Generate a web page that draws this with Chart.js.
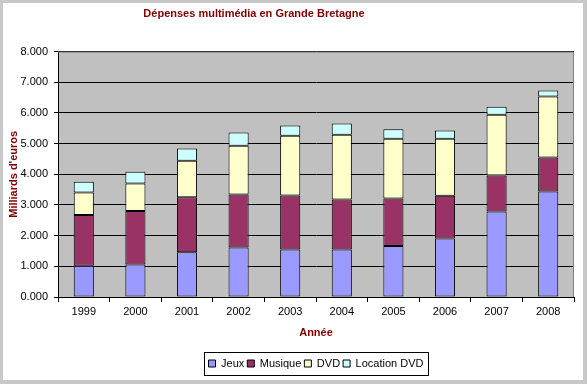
<!DOCTYPE html>
<html>
<head>
<meta charset="utf-8">
<title>Dépenses multimédia en Grande Bretagne</title>
<script src="https://cdn.jsdelivr.net/npm/chart.js@4"></script>
<style>
  html, body { margin: 0; padding: 0; }
  body { width: 587px; height: 384px; background: #c8c8c8; position: relative; overflow: hidden; }
  #frame { position: absolute; left: 3px; top: 3px; width: 580px; height: 377px; background: #fff; }
</style>
</head>
<body>
<div id="frame"><canvas id="barChart"></canvas></div>
<script>
// données (milliards d'euros)
const annees = ["1999", "2000", "2001", "2002", "2003", "2004", "2005", "2006", "2007", "2008"];
const jeux = [1.02, 1.06, 1.46, 1.61, 1.55, 1.55, 1.66, 1.91, 2.79, 3.44];
const musique = [1.65, 1.74, 1.79, 1.73, 1.76, 1.63, 1.55, 1.39, 1.17, 1.11];
const dvd = [0.74, 0.90, 1.19, 1.59, 1.95, 2.11, 1.95, 1.86, 1.98, 1.99];
const locationDvd = [0.35, 0.38, 0.40, 0.43, 0.33, 0.37, 0.31, 0.27, 0.26, 0.19];
const yTicks = [0, 1, 2, 3, 4, 5, 6, 7, 8];

const rouge = "#800000";

// fond gris de la zone de traçage + cadre
const plotArea = {
  id: "plotArea",
  beforeDraw(chart) {
    const { ctx, chartArea: a } = chart;
    ctx.save();
    ctx.fillStyle = "#c0c0c0";
    ctx.fillRect(a.left, a.top, a.right - a.left, a.bottom - a.top);
    ctx.restore();
  },
  afterDatasetsDraw(chart) {
    const { ctx, chartArea: a } = chart;
    ctx.save();
    ctx.strokeStyle = "#808080";
    ctx.lineWidth = 1;
    ctx.beginPath();
    ctx.moveTo(a.left, a.top + 0.5);
    ctx.lineTo(a.right - 0.5, a.top + 0.5);
    ctx.lineTo(a.right - 0.5, a.bottom);
    ctx.stroke();
    ctx.restore();
  }
};

// titre un peu à gauche, légende centrée sous la zone de traçage avec un cadre
const legendBox = {
  id: "legendBox",
  afterLayout(chart) {
    const t = chart.titleBlock;
    const tShift = 251 - (t.left + t.right) / 2;
    t.left += tShift;
    t.right += tShift;

    const l = chart.legend;
    const a = chart.chartArea;
    const shift = (a.left + a.right) / 2 - (l.left + l.right) / 2;
    l.left += shift;
    l.right += shift;
    (l.legendHitBoxes || []).forEach((h) => { h.left += shift; });
  },
  afterDraw(chart) {
    const hb = chart.legend.legendHitBoxes;
    if (!hb || !hb.length) return;
    const x0 = Math.min(...hb.map((h) => h.left)) - 5;
    const x1 = Math.max(...hb.map((h) => h.left + h.width)) + 4;
    const y0 = hb[0].top - 6;
    const y1 = hb[0].top + hb[0].height + 6;
    const ctx = chart.ctx;
    ctx.save();
    ctx.strokeStyle = "#000";
    ctx.lineWidth = 1;
    ctx.strokeRect(Math.round(x0) + 0.5, Math.round(y0) + 0.5, Math.round(x1 - x0), Math.round(y1 - y0));
    ctx.restore();
  }
};

function serie(label, data, color) {
  return {
    label: label,
    data: data,
    backgroundColor: color,
    borderColor: "#000",
    borderWidth: 1,
    borderSkipped: false,
    barPercentage: 0.39,
    categoryPercentage: 1
  };
}

Chart.defaults.font.family = "Arial, 'Liberation Sans', sans-serif";
Chart.defaults.font.size = 11;
Chart.defaults.color = "#000";

new Chart(document.getElementById("barChart"), {
  type: "bar",
  data: {
    labels: annees,
    datasets: [
      serie("Jeux", jeux, "#9999ff"),
      serie("Musique", musique, "#993366"),
      serie("DVD", dvd, "#ffffcc"),
      serie("Location DVD", locationDvd, "#ccffff")
    ]
  },
  options: {
    responsive: true,
    maintainAspectRatio: false,
    animation: false,
    layout: { padding: { left: 0, right: 9, top: 0, bottom: 1 } },
    plugins: {
      title: {
        display: true,
        text: "Dépenses multimédia en Grande Bretagne",
        color: rouge,
        font: { size: 11, weight: "bold" },
        padding: { top: 4.5, bottom: 30.9 }
      },
      legend: {
        position: "bottom",
        labels: { boxWidth: 7, boxHeight: 7, padding: 3, color: "#000", font: { size: 11 } }
      },
      tooltip: { enabled: false }
    },
    scales: {
      x: {
        stacked: true,
        grid: { offset: true, drawOnChartArea: false, color: "#000", tickLength: 5 },
        border: { color: "#000" },
        ticks: { padding: 3, maxRotation: 0 },
        title: { display: true, text: "Année", color: rouge, font: { size: 11, weight: "bold" }, padding: { top: 0, bottom: 15 } },
        afterFit(scale) { scale.height = 58; }
      },
      y: {
        stacked: true,
        min: 0,
        max: 8,
        afterBuildTicks(scale) { scale.ticks = yTicks.map((v) => ({ value: v })); },
        grid: { color: "#000", tickLength: 4 },
        border: { color: "#000" },
        ticks: { padding: 6, callback: (v) => Number(v).toFixed(3) },
        title: { display: true, text: "Milliards d'euros", color: rouge, font: { size: 11, weight: "bold" }, padding: { top: 4, bottom: 0 } },
        afterFit(scale) { scale.width = 55; }
      }
    }
  },
  plugins: [plotArea, legendBox]
});
</script>
</body>
</html>
